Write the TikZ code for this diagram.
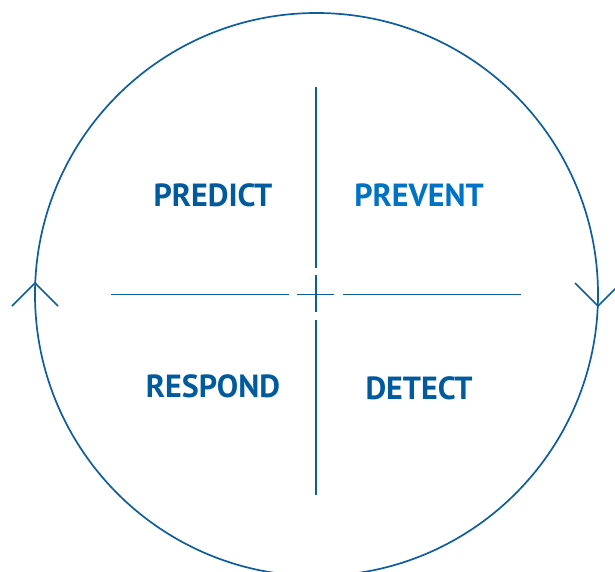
\documentclass[tikz,border=0pt]{standalone}
\usepackage{fontspec}
\setmainfont{PT Sans}
\definecolor{dblue}{HTML}{0F5E9C}
\definecolor{tblue}{HTML}{005A9C}
\definecolor{lblue}{HTML}{0073C4}
\begin{document}
\begin{tikzpicture}[x=1pt,y=-1pt,
  ln/.style={draw=dblue,line width=1.7pt},
  lbl/.style={font=\bfseries\fontsize{32}{36}\selectfont,inner sep=0pt}]
\useasboundingbox (0,0) rectangle (615,572);
\clip (0,0) rectangle (615,572);
\draw[ln] (316.5,294.5) circle (281.5);
% cross
\coordinate (t) at (316,87); \coordinate (t1) at (316,268);
\coordinate (m1) at (316,275); \coordinate (m2) at (316,312);
\coordinate (b1) at (316,320); \coordinate (b) at (316,495);
\draw[ln] (t) -- (t1);
\draw[ln] (m1) -- (m2);
\draw[ln] (b1) -- (b);
\coordinate (l) at (111,294.5); \coordinate (l1) at (289,294.5);
\coordinate (c1) at (297,294.5); \coordinate (c2) at (334,294.5);
\coordinate (r1) at (343,294.5); \coordinate (r) at (521,294.5);
\draw[ln] (l) -- (l1);
\draw[ln] (c1) -- (c2);
\draw[ln] (r1) -- (r);
% arrows
\coordinate (a1) at (35,283);
\draw[ln] (12,306) -- (a1) -- (58,306);
\coordinate (a2) at (598,306);
\draw[ln] (575,283) -- (a2) -- (621,283);
% labels
\node[lbl,text=tblue] (pd) at (213,195) {PREDICT};
\node[lbl,text=lblue] (pv) at (419,195) {PREVENT};
\node[lbl,text=tblue] (rs) at (213,386) {RESPOND};
\node[lbl,text=tblue] (dt) at (419,388) {DETECT};
\end{tikzpicture}
\end{document}
